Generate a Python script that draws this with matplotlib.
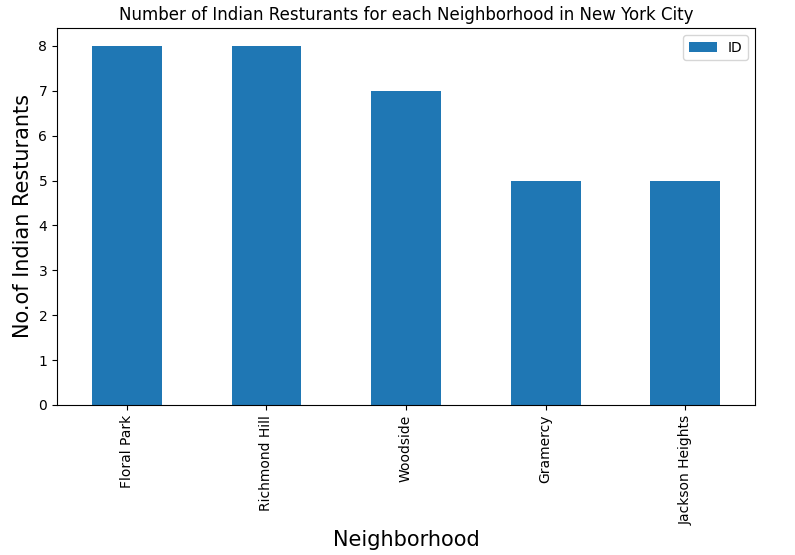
import matplotlib
matplotlib.use("Agg")
import matplotlib.pyplot as plt
import numpy as np

neighborhoods = ["Floral Park", "Richmond Hill", "Woodside", "Gramercy", "Jackson Heights"]
counts = [8, 8, 7, 5, 5]

fig = plt.figure(figsize=(7.95, 5.55), dpi=100)
ax = fig.add_axes([57/795, 1-405/555, (755-57)/795, (405-28)/555])
x = np.arange(len(neighborhoods))
ax.bar(x, counts, width=0.5, color="#1f77b4", label="ID")
ax.set_xlim(-0.5, len(neighborhoods)-0.5)
ax.set_ylim(0, 8.4)
ax.set_xticks(x)
ax.set_xticklabels(neighborhoods, rotation=90)
ax.set_title("Number of Indian Resturants for each Neighborhood in New York City", fontsize=12)
ax.set_xlabel("Neighborhood", fontsize=15)
ax.set_ylabel("No.of Indian Resturants", fontsize=15)
ax.legend(loc="upper right")
fig.savefig("out.png", dpi=100)
